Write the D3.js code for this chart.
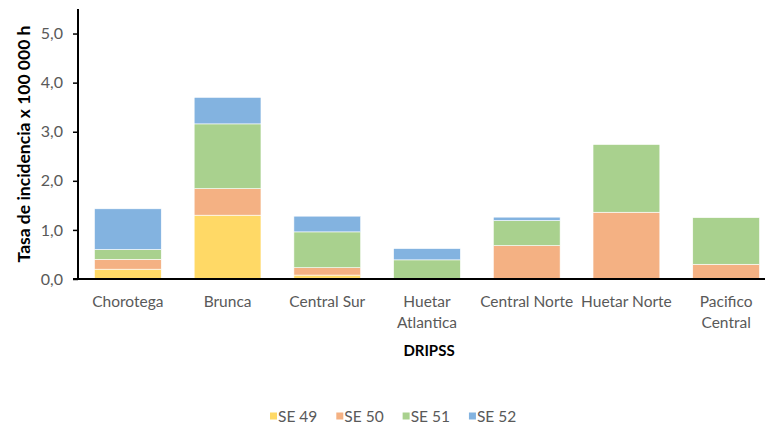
<!DOCTYPE html>
<html>
<head>
<meta charset="utf-8">
<script src="https://cdn.jsdelivr.net/npm/d3@7"></script>
<style>
  body { margin: 0; background: #fff; }
  svg { display: block; font-family: Lato, "Open Sans", sans-serif; }
</style>
</head>
<body>
<svg id="chart" width="765" height="425"></svg>
<script>
// regions (DRIPSS) and weekly incidence values
var regions = ["Chorotega", "Brunca", "Central Sur", "Huetar Atlantica", "Central Norte", "Huetar Norte", "Pacifico Central"];
var se49 = [0.20, 1.30, 0.08, 0, 0, 0, 0];
var se50 = [0.20, 0.54, 0.15, 0, 0.68, 1.36, 0.30];
var se51 = [0.20, 1.32, 0.73, 0.39, 0.51, 1.38, 0.95];
var se52 = [0.83, 0.54, 0.32, 0.23, 0.07, 0, 0];
var seriesNames = ["SE 49", "SE 50", "SE 51", "SE 52"];
var seriesColors = ["#ffd966", "#f4b183", "#a9d18e", "#83b3e0"];
var yTicks = [0, 1, 2, 3, 4, 5];

(function () {

var svg = d3.select("#chart");
var plotLeft = 78, plotBottom = 279, plotTop = 9;

var rows = regions.map(function (r, i) {
  return { region: r, "SE 49": se49[i], "SE 50": se50[i], "SE 51": se51[i], "SE 52": se52[i] };
});
var stacked = d3.stack().keys(seriesNames)(rows);

var x = d3.scaleBand().domain(regions).range([plotLeft, 776]).paddingInner(0.33).paddingOuter(0.165);
var y = d3.scaleLinear().domain([0, 5.5]).range([plotBottom, plotTop]);
var color = d3.scaleOrdinal().domain(seriesNames).range(seriesColors);

// bars
svg.append("g").selectAll("g")
  .data(stacked)
  .join("g")
  .attr("fill", d => color(d.key))
  .selectAll("rect")
  .data(d => d.filter(p => p[1] - p[0] > 0))
  .join("rect")
  .attr("x", d => x(d.data.region))
  .attr("width", x.bandwidth())
  .attr("y", d => y(d[1]))
  .attr("height", d => y(d[0]) - y(d[1]))
  .attr("stroke", "#fff")
  .attr("stroke-width", 0.6);

// y axis
var yAxis = svg.append("g")
  .attr("transform", "translate(" + plotLeft + ",0)")
  .call(d3.axisLeft(y).tickValues(yTicks).tickSize(5).tickPadding(10)
    .tickFormat(d => d3.format(".1f")(d).replace(".", ",")));
yAxis.select(".domain").attr("d", "M0," + plotTop + "V" + plotBottom).attr("stroke", "#000").attr("stroke-width", 2);
yAxis.selectAll(".tick line").attr("stroke", "#000").attr("stroke-width", 1.5);
yAxis.selectAll(".tick text").attr("fill", "#595959").style("font-size", "16px").style("font-family", "Lato, sans-serif");

// x axis baseline
svg.append("line")
  .attr("x1", plotLeft - 5).attr("x2", 765)
  .attr("y1", plotBottom).attr("y2", plotBottom)
  .attr("stroke", "#000").attr("stroke-width", 2);

// category labels, two-word long ones wrap
var wrapped = { "Huetar Atlantica": ["Huetar", "Atlantica"], "Pacifico Central": ["Pacifico", "Central"] };
var xl = svg.append("g").attr("fill", "#595959").style("font-size", "15.5px").attr("text-anchor", "middle");
regions.forEach(function (r) {
  var lines = wrapped[r] || [r];
  var cx = x(r) + x.bandwidth() / 2;
  var t = xl.append("text").attr("x", cx).attr("y", 307);
  lines.forEach(function (l, i) {
    t.append("tspan").attr("x", cx).attr("dy", i === 0 ? 0 : 21).text(l);
  });
});

// axis titles
svg.append("text")
  .attr("x", 429).attr("y", 356)
  .attr("text-anchor", "middle")
  .style("font-size", "15px").style("font-weight", "bold")
  .text("DRIPSS");

svg.append("text")
  .attr("transform", "translate(30,144) rotate(-90)")
  .attr("text-anchor", "middle")
  .style("font-size", "17.5px").style("font-weight", "bold")
  .text("Tasa de incidencia x 100 000 h");

// legend
var legend = svg.append("g").attr("transform", "translate(270,416)");
var lx = 0;
seriesNames.forEach(function (s) {
  var item = legend.append("g").attr("transform", "translate(" + lx + ",0)");
  item.append("rect").attr("x", 0).attr("y", -3.5).attr("width", 7).attr("height", 7).attr("fill", color(s));
  var t = item.append("text").attr("x", 8).attr("y", 5.5)
    .attr("fill", "#595959").style("font-size", "15.5px").text(s);
  lx += 8 + t.node().getComputedTextLength() + 19;
});

})();
</script>
</body>
</html>
